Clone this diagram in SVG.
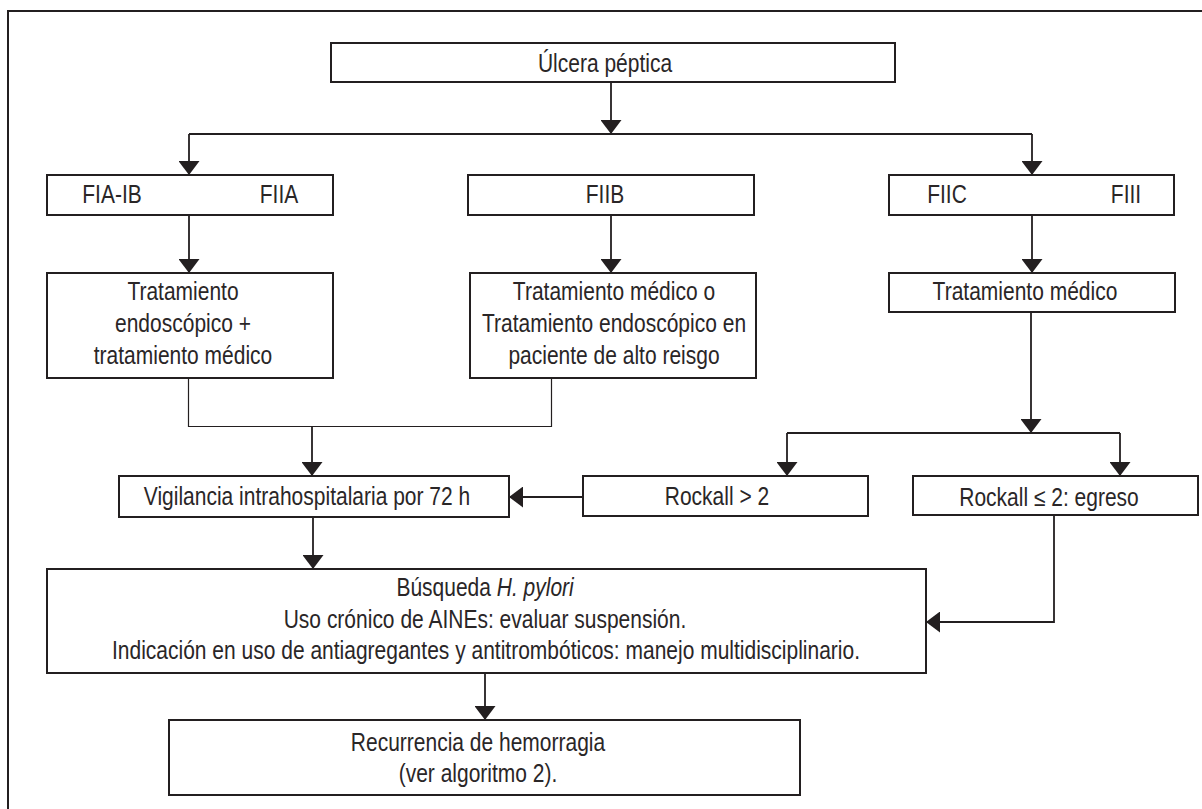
<svg xmlns="http://www.w3.org/2000/svg" width="1202" height="809" viewBox="0 0 1202 809">
  <style>
    .box { fill: #ffffff; stroke: #231f20; stroke-width: 2; }
    .t { font-family: "Liberation Sans", Arial, sans-serif; font-size: 25px; fill: #2a2627; text-anchor: middle; transform-box: fill-box; transform-origin: center; transform: scaleX(0.84); }
    .ln { fill: none; stroke: #231f20; stroke-width: 1.8; }
    .thin { fill: none; stroke: #231f20; stroke-width: 1.2; }
    .frame { fill: none; stroke: #231f20; stroke-width: 2; }
  </style>
  <defs>
    <marker id="ah" markerUnits="userSpaceOnUse" markerWidth="15" markerHeight="21" refX="14" refY="10.5" orient="auto" viewBox="0 0 15 21">
      <path d="M0,0 L14,10.5 L0,21 Z" fill="#231f20"/>
    </marker>
  </defs>
  <rect width="1202" height="809" fill="#ffffff"/>
  <rect class="frame" x="8" y="11" width="1210" height="820"/>

  <g id="connectors">
    <path class="ln" d="M611,82 V134" marker-end="url(#ah)"/>
    <path class="ln" d="M189,134 H1032"/>
    <path class="ln" d="M189,134 V175" marker-end="url(#ah)"/>
    <path class="ln" d="M1032,134 V175" marker-end="url(#ah)"/>
    <path class="ln" d="M189,215 V273" marker-end="url(#ah)"/>
    <path class="ln" d="M611,215 V273" marker-end="url(#ah)"/>
    <path class="ln" d="M1032,215 V273" marker-end="url(#ah)"/>
    <path class="thin" d="M188.5,378 V426.5 H551.5 V378"/>
    <path class="ln" d="M312,426 V476" marker-end="url(#ah)"/>
    <path class="ln" d="M1031,312 V433" marker-end="url(#ah)"/>
    <path class="ln" d="M787,433 H1120"/>
    <path class="ln" d="M787,433 V476" marker-end="url(#ah)"/>
    <path class="ln" d="M1120,433 V476" marker-end="url(#ah)"/>
    <path class="ln" d="M583,497 H509" marker-end="url(#ah)"/>
    <path class="ln" d="M313,517 V569" marker-end="url(#ah)"/>
    <path class="ln" d="M1054,515 V622 H926" marker-end="url(#ah)"/>
    <path class="ln" d="M485,673 V720" marker-end="url(#ah)"/>
  </g>

  <g id="ulcera">
    <rect class="box" x="331" y="43" width="564" height="39"/>
    <text class="t" x="605" y="72">Úlcera péptica</text>
  </g>
  <g id="fia-fiia">
    <rect class="box" x="47" y="175" width="286" height="40"/>
    <text class="t" x="112" y="203">FIA-IB</text>
    <text class="t" x="279" y="203">FIIA</text>
  </g>
  <g id="fiib">
    <rect class="box" x="468" y="175" width="286" height="40"/>
    <text class="t" x="605" y="203">FIIB</text>
  </g>
  <g id="fiic-fiii">
    <rect class="box" x="889" y="175" width="285" height="40"/>
    <text class="t" x="947" y="203">FIIC</text>
    <text class="t" x="1126" y="203">FIII</text>
  </g>
  <g id="tx-endoscopico">
    <rect class="box" x="47" y="273" width="286" height="105"/>
    <text class="t" x="183" y="300">Tratamiento</text>
    <text class="t" x="183" y="332">endoscópico +</text>
    <text class="t" x="183" y="364">tratamiento médico</text>
  </g>
  <g id="tx-medico-o">
    <rect class="box" x="470" y="273" width="286" height="105"/>
    <text class="t" x="614" y="300">Tratamiento médico o</text>
    <text class="t" x="614" y="332">Tratamiento endoscópico en</text>
    <text class="t" x="614" y="364">paciente de alto reisgo</text>
  </g>
  <g id="tx-medico">
    <rect class="box" x="889" y="273" width="286" height="39"/>
    <text class="t" x="1025" y="300">Tratamiento médico</text>
  </g>
  <g id="vigilancia">
    <rect class="box" x="119" y="476" width="390" height="41"/>
    <text class="t" x="307" y="505">Vigilancia intrahospitalaria por 72 h</text>
  </g>
  <g id="rockall-mayor">
    <rect class="box" x="583" y="476" width="285" height="40"/>
    <text class="t" x="717" y="505">Rockall &gt; 2</text>
  </g>
  <g id="rockall-menor">
    <rect class="box" x="913" y="476" width="285" height="39"/>
    <text class="t" x="1049" y="506">Rockall ≤ 2: egreso</text>
  </g>
  <g id="busqueda">
    <rect class="box" x="47" y="569" width="879" height="104"/>
    <text class="t" x="485" y="596.5">Búsqueda <tspan font-style="italic">H. pylori</tspan></text>
    <text class="t" x="485" y="628">Uso crónico de AINEs: evaluar suspensión.</text>
    <text class="t" x="486" y="659.5">Indicación en uso de antiagregantes y antitrombóticos: manejo multidisciplinario.</text>
  </g>
  <g id="recurrencia">
    <rect class="box" x="169" y="720" width="631" height="75"/>
    <text class="t" x="478" y="751">Recurrencia de hemorragia</text>
    <text class="t" x="478" y="782">(ver algoritmo 2).</text>
  </g>
</svg>
